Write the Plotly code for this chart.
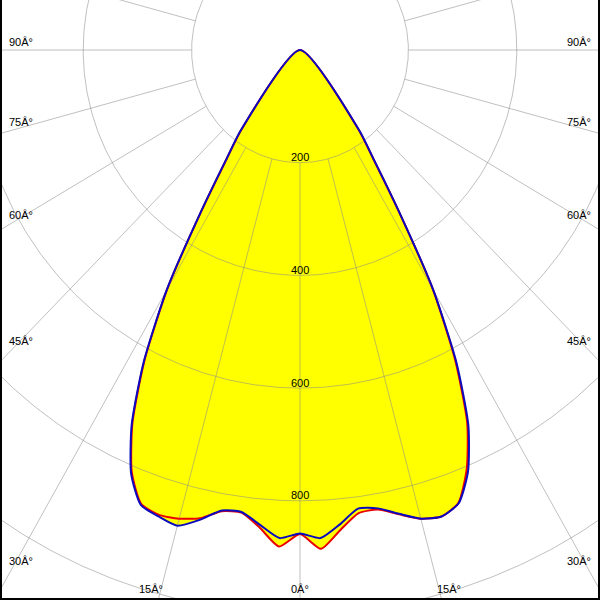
import numpy as np
import plotly.graph_objects as go

# ---- data ----
gamma_deg = [-40, -37.5, -35, -32.5, -30, -27.5, -25, -22.5, -20, -17.5, -15, -12.5,
             -10, -7.5, -5, -2.5, 0, 2.5, 5, 7.5, 10, 12.5, 15, 17.5, 20, 22.5,
             25, 27.5, 30, 32.5, 35, 37.5, 40]
# red curve (C0-C180 plane), cd
i_red = [0, 176, 236, 338, 490, 622, 732, 811, 857, 865, 861, 851,
         831, 828, 851, 882, 859, 886, 855, 829, 828, 844, 861, 868, 855, 804,
         730, 620, 490, 338, 236, 176, 0]
# blue curve (C90-C270 plane), cd
i_blue = [0, 178, 238, 340, 492, 625, 735, 814, 859, 868, 874, 854,
          830, 827, 846, 867, 858, 867, 845, 821, 826, 843, 861, 868, 856, 810,
          735, 625, 492, 340, 238, 178, 0]

ring_values = [200, 400, 600, 800, 1000]
ring_labels = ["200", "400", "600", "800"]
spoke_step = 15
angle_ticks = [90, 75, 60, 45, 30, 15, 0]
angle_tick_labels = ["90Â°", "75Â°", "60Â°", "45Â°", "30Â°", "15Â°", "0Â°"]

# ---- geometry of the picture ----
W = H = 600
CX, CY = 300.0, 50.0        # pole position in pixels
SX, SY = 0.542, 0.5635      # pixels per cd (horizontal / vertical)

x_range = [-CX / SX, (W - CX) / SX]
y_range = [-(H - CY) / SY, CY / SY]


def to_xy(g_deg, r):
    g = np.radians(np.asarray(g_deg, dtype=float))
    r = np.asarray(r, dtype=float)
    return r * np.sin(g), -r * np.cos(g)


fig = go.Figure()

xr, yr = to_xy(gamma_deg, i_red)
xb, yb = to_xy(gamma_deg, i_blue)
SMOOTH = 0.6

# yellow fills
for xx, yy in ((xr, yr), (xb, yb)):
    fig.add_trace(go.Scatter(x=xx, y=yy, mode="lines", fill="toself",
                             fillcolor="#ffff00",
                             line=dict(width=0, shape="spline", smoothing=SMOOTH),
                             hoverinfo="skip"))

# grid circles
t = np.linspace(0, 2 * np.pi, 721)
gx, gy = [], []
for r in ring_values:
    gx += list(r * np.sin(t)) + [None]
    gy += list(-r * np.cos(t)) + [None]
# spokes from 200 outwards
for a in range(0, 360, spoke_step):
    sx, sy = to_xy([a, a], [ring_values[0], 1400])
    gx += list(sx) + [None]
    gy += list(sy) + [None]
fig.add_trace(go.Scatter(x=gx, y=gy, mode="lines",
                         line=dict(color="rgba(140,140,140,0.55)", width=1),
                         hoverinfo="skip"))

# curves
fig.add_trace(go.Scatter(x=xr, y=yr, mode="lines",
                         line=dict(color="rgb(235,0,0)", width=2, shape="spline", smoothing=SMOOTH),
                         hoverinfo="skip"))
fig.add_trace(go.Scatter(x=xb, y=yb, mode="lines",
                         line=dict(color="rgb(10,10,190)", width=2, shape="spline", smoothing=SMOOTH),
                         hoverinfo="skip"))

font = dict(family="Liberation Sans, Arial, sans-serif", size=11, color="black")
ann = []


def add_label(text, px, py, xanchor):
    ann.append(dict(text=text, x=px / W, y=1 - py / H, xref="paper", yref="paper",
                    xanchor=xanchor, yanchor="middle", showarrow=False,
                    borderpad=0, borderwidth=0, font=font))


# ring labels
for r, lab in zip(ring_values, ring_labels):
    add_label(lab, CX, CY + r * SY - 5.5, "center")

# angle labels
for g, lab in zip(angle_ticks, angle_tick_labels):
    gr = np.radians(g)
    if g >= 30:
        rr = (CX - 12) / (np.sin(gr) * SX)
        py = CY + rr * np.cos(gr) * SY - 8
        add_label(lab, 9, py, "left")
        add_label(lab, W - 9.5, py, "right")
    else:
        rr = (588 - CY) / (np.cos(gr) * SY)
        dx = rr * np.sin(gr) * SX
        if g == 0:
            add_label(lab, CX, 588.7, "center")
        else:
            add_label(lab, CX - dx + 2, 588.7, "right")
            add_label(lab, CX + dx - 2, 588.7, "left")

# black frame on left, right, bottom
shapes = [
    dict(type="rect", xref="paper", yref="paper", x0=0, x1=2 / W, y0=0, y1=1,
         fillcolor="black", line=dict(width=0), layer="above"),
    dict(type="rect", xref="paper", yref="paper", x0=1 - 2 / W, x1=1, y0=0, y1=1,
         fillcolor="black", line=dict(width=0), layer="above"),
    dict(type="rect", xref="paper", yref="paper", x0=0, x1=1, y0=0, y1=2 / H,
         fillcolor="black", line=dict(width=0), layer="above"),
]

fig.update_layout(
    width=W, height=H, margin=dict(l=0, r=0, t=0, b=0),
    paper_bgcolor="white", plot_bgcolor="white", showlegend=False,
    xaxis=dict(range=x_range, visible=False, fixedrange=True),
    yaxis=dict(range=y_range, visible=False, fixedrange=True),
    annotations=ann, shapes=shapes,
)

fig.write_html("out.html", config={"displayModeBar": False, "staticPlot": True},
               post_script="document.body.style.margin='0';document.body.style.overflow='hidden';")
